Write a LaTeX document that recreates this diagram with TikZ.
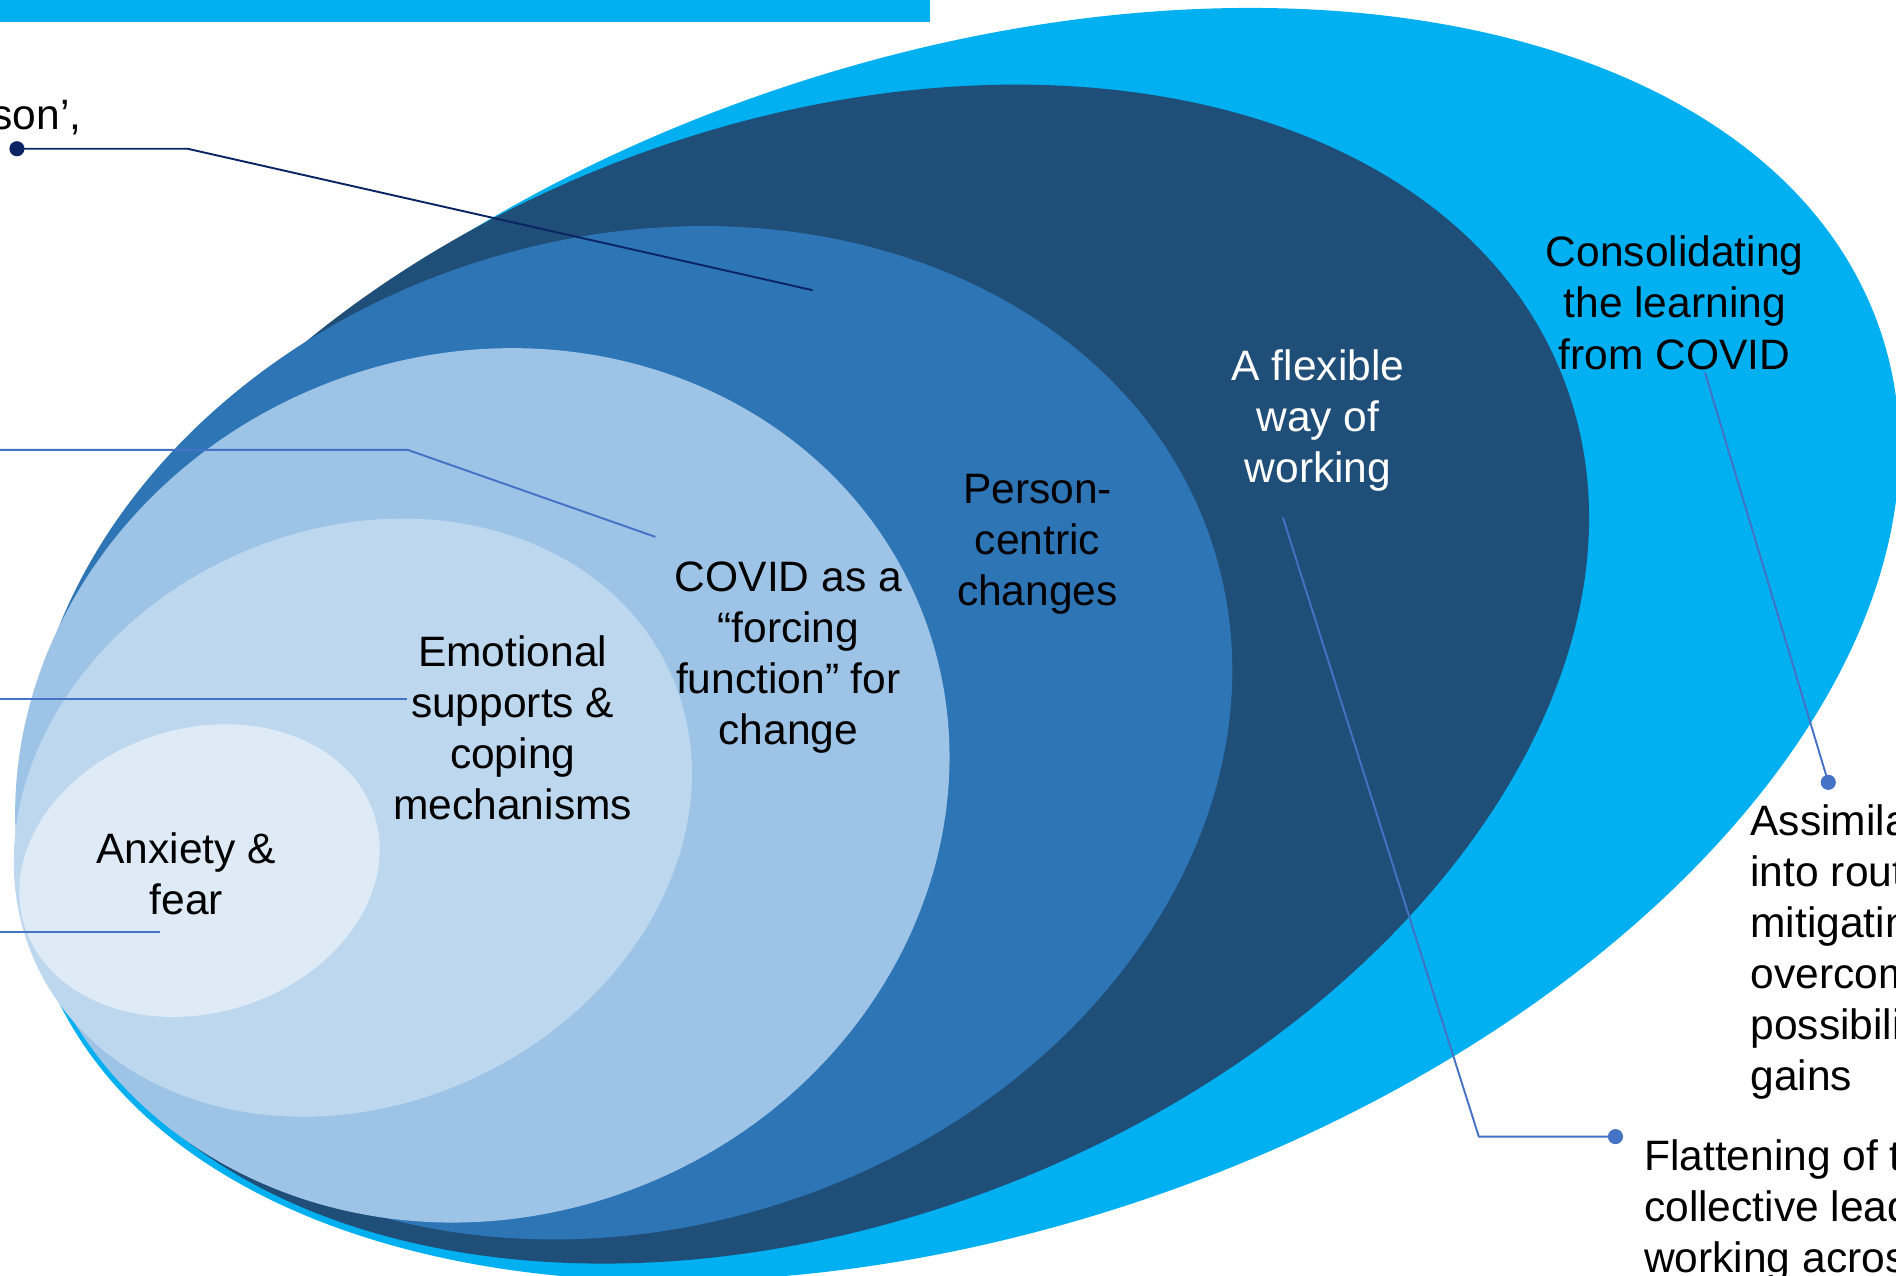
\documentclass[tikz,border=0pt]{standalone}
\usepackage{fontspec}
\setmainfont{Liberation Sans}
\definecolor{ringcyan}{HTML}{00B0F0}
\definecolor{ringnavy}{HTML}{1F4E79}
\definecolor{ringmid}{HTML}{2E75B6}
\definecolor{ringlight}{HTML}{9DC3E6}
\definecolor{ringpale}{HTML}{BDD7EE}
\definecolor{ringcore}{HTML}{DEEBF7}
\definecolor{leadnavy}{HTML}{0B2463}
\definecolor{leadblue}{HTML}{4472C4}
\begin{document}
\begin{tikzpicture}[x=0.01cm,y=-0.01cm,
  label/.style={inner sep=0pt,align=center,anchor=north,font=\fontsize{10}{12}\selectfont},
  sidetext/.style={inner sep=0pt,align=left,anchor=north west,font=\fontsize{10}{12}\selectfont},
  leader/.style={line width=0.45pt},
  leaddot/.style={circle,inner sep=0pt,minimum size=0.125cm}]
\useasboundingbox (0,0) rectangle (1568,1055);
\clip (0,0) rectangle (1568,1055);

% banner strip along the top
\fill[ringcyan] (0,0) rectangle (769,18);

% nested tilted ellipses, outermost first
\fill[ringcyan,  rotate around={18.9:(794.3,533)}] (794.3,533) ellipse [x radius=803.8, y radius=483.5];
\fill[ringnavy,  rotate around={21.6:(669.6,557.5)}] (669.6,557.5) ellipse [x radius=669.6, y radius=452.3];
\fill[ringmid,   rotate around={17.6:(520,606)}] (520,606) ellipse [x radius=507.2, y radius=409];
\fill[ringlight, rotate around={22.1:(398.9,649.5)}] (398.9,649.5) ellipse [x radius=391, y radius=356.4];
\fill[ringpale,  rotate around={24.7:(291.8,676.2)}] (291.8,676.2) ellipse [x radius=288.6, y radius=237.6];
\fill[ringcore,  rotate around={17.3:(165,720)}] (165,720) ellipse [x radius=151.7, y radius=117.6];

% ring labels
\node[label] (consol) at (1385,194.6) {Consolidating\\the learning\\from COVID};
\node[label,text=white] (flex) at (1090,288.8) {A flexible\\way of\\working};
\node[label] (person) at (858,391.7) {Person-\\centric\\changes};
\node[label] (forcing) at (652,463.7) {COVID as a\\“forcing\\function” for\\change};
\node[label] (emo) at (424,524.7) {Emotional\\supports \&\\coping\\mechanisms};
\node[label] (anx) at (154,687.7) {Anxiety \&\\fear};

% side texts
\node[inner sep=0pt,anchor=base east,font=\fontsize{10}{12}\selectfont] (topnote) at (68,107.5) {son’,};
\node[sidetext] (assim) at (1447,665) {Assimila\\into rout\\mitigatin\\overcom\\possibili\\gains};
\node[sidetext] (flat) at (1359,941.5) {Flattening of t\\collective lead\\working acros};

% leader lines
\node[leaddot,fill=leadnavy] (d1) at (14,123) {};
\coordinate (k1) at (155,123);
\coordinate (e1) at (672,240);
\draw[leader,leadnavy] (d1.center) -- (k1) -- (e1);

\coordinate (s2) at (-5,372);
\coordinate (k2) at (337,372);
\coordinate (e2) at (542,444);
\draw[leader,leadblue] (s2) -- (k2) -- (e2);

\coordinate (s3) at (-5,578);
\coordinate (e3) at (337,578);
\draw[leader,leadblue] (s3) -- (e3);

\coordinate (s4) at (-5,771);
\coordinate (e4) at (132,771);
\draw[leader,leadblue] (s4) -- (e4);

\coordinate (s5) at (1410,308);
\node[leaddot,fill=leadblue] (d5) at (1512,647) {};
\draw[leader,leadblue] (s5) -- (d5.center);

\coordinate (s6) at (1061,428);
\coordinate (k6) at (1223,940);
\node[leaddot,fill=leadblue] (d6) at (1336,940) {};
\draw[leader,leadblue] (s6) -- (k6) -- (d6.center);
\end{tikzpicture}
\end{document}
